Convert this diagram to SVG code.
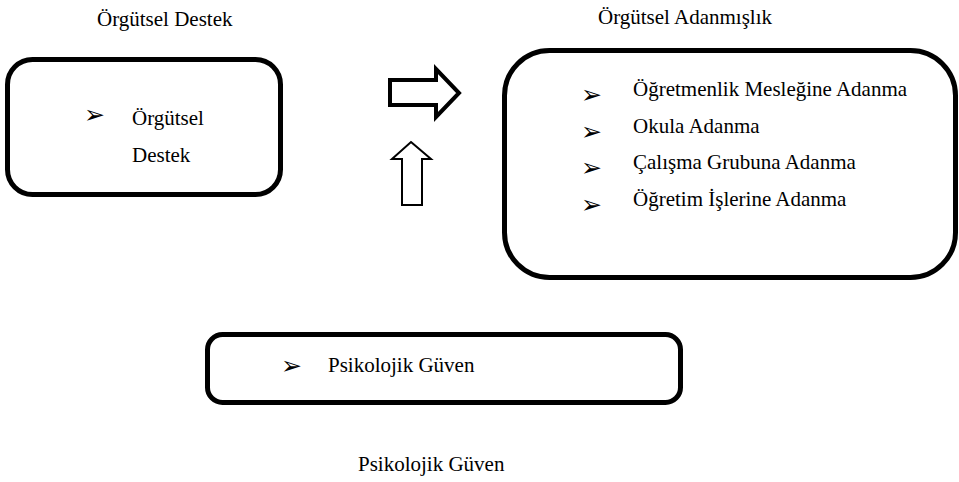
<svg xmlns="http://www.w3.org/2000/svg" width="959" height="482" viewBox="0 0 959 482">
<style>
text{font-family:"Liberation Serif",serif}
.t{font-family:"Liberation Serif",serif;font-size:21px;fill:#000}
.b{font-family:"DejaVu Sans",sans-serif;font-size:25px;fill:#000}
.box{fill:#fff;stroke:#000;stroke-width:5}
.arr{fill:#fff;stroke:#000;stroke-linejoin:miter}
</style>
<rect width="959" height="482" fill="#fff"/>
<text class="t" x="97" y="26">Örgütsel Destek</text>
<text class="t" x="598" y="24">Örgütsel Adanmışlık</text>
<g id="orgutsel-destek">
<rect class="box" x="7.5" y="59.5" width="273" height="135" rx="25"/>
<text class="b" x="84" y="123">➢</text>
<text class="t" x="132" y="125">Örgütsel</text>
<text class="t" x="132" y="162">Destek</text>
</g>
<g id="orgutsel-adanmislik">
<rect class="box" x="504.5" y="50.5" width="451" height="227" rx="45"/>
<text class="b" x="581" y="103">➢</text>
<text class="t" x="633" y="96">Öğretmenlik Mesleğine Adanma</text>
<text class="b" x="581" y="140">➢</text>
<text class="t" x="633" y="133">Okula Adanma</text>
<text class="b" x="581" y="176">➢</text>
<text class="t" x="633" y="169">Çalışma Grubuna Adanma</text>
<text class="b" x="581" y="213">➢</text>
<text class="t" x="633" y="206">Öğretim İşlerine Adanma</text>
</g>
<g id="psikolojik-guven">
<rect class="box" x="207.5" y="334.5" width="473" height="68" rx="15"/>
<text class="b" x="281" y="374">➢</text>
<text class="t" x="328" y="372">Psikolojik Güven</text>
</g>
<text class="t" x="358" y="471">Psikolojik Güven</text>
<g id="connectors">
<polygon class="arr" stroke-width="4" points="390,80 436,80 436,69 459,93 436,117 436,105 390,105"/>
<polygon class="arr" stroke-width="2" points="411,142 431,159 422,159 422,205 402,205 402,159 392,159"/>
</g>
</svg>
